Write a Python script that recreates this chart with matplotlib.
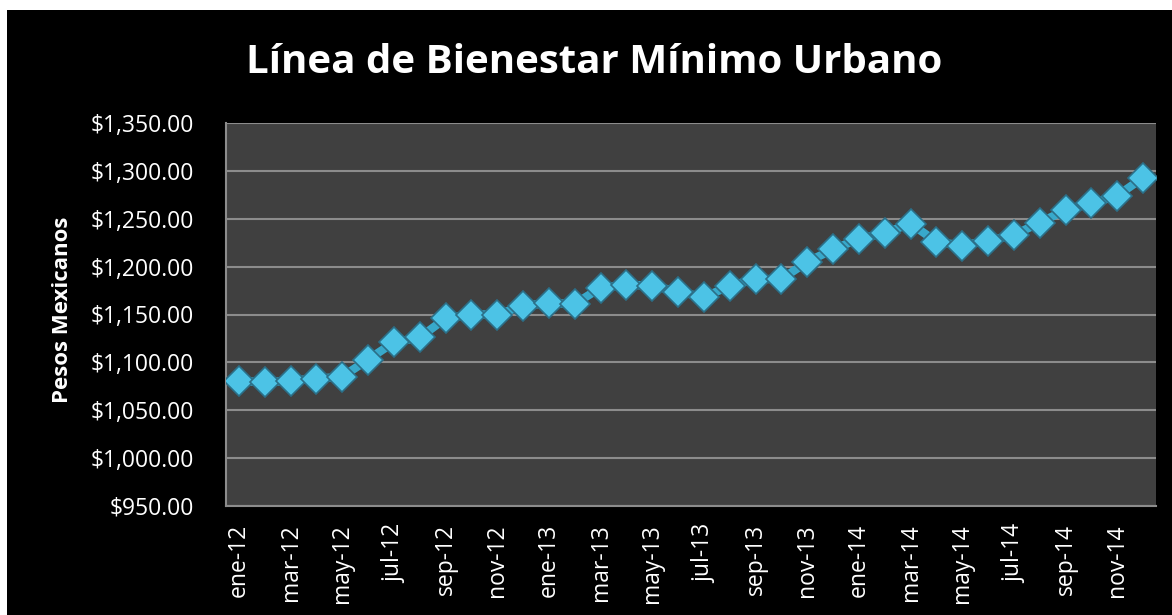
import matplotlib.pyplot as plt
from matplotlib.patches import Rectangle
from matplotlib.ticker import FuncFormatter

# Linea de bienestar minimo urbano, ene-12 .. dic-14
meses = ['ene', 'feb', 'mar', 'abr', 'may', 'jun', 'jul', 'ago', 'sep', 'oct', 'nov', 'dic']
anios = ['12', '13', '14']
etiquetas = [m + '-' + a for a in anios for m in meses]
valores = [1081, 1079, 1081, 1083, 1085, 1103, 1121, 1126, 1146, 1150, 1150, 1159,
           1162, 1161, 1178, 1181, 1180, 1174, 1168, 1180, 1187, 1187, 1205, 1218,
           1229, 1235, 1245, 1226, 1222, 1227, 1233, 1246, 1259, 1266, 1274, 1293]

plt.rcParams['font.family'] = ['Open Sans', 'DejaVu Sans']

fig = plt.figure(figsize=(11.72, 6.15), dpi=100)
fig.patch.set_facecolor('white')
fig.patches.append(Rectangle((7 / 1172, 0), 1, 1 - 10 / 615, transform=fig.transFigure,
                             facecolor='black', edgecolor='none', zorder=-10))

ax = fig.add_axes([226 / 1172, 1 - 506 / 615, 930 / 1172, 383 / 615])
ax.set_facecolor('#404040')

x = list(range(len(valores)))
ax.plot(x, valores, color='#38a9cb', linewidth=6, zorder=2)
ax.plot(x, valores, linestyle='none', marker='D', markersize=15,
        markerfacecolor='#4cc3e6', markeredgecolor='#2b6f88', markeredgewidth=1.2, zorder=3)

ax.set_xlim(-0.5, len(valores) - 0.5)
ax.set_ylim(950, 1350)
ax.set_yticks(range(950, 1351, 50))
ax.yaxis.set_major_formatter(FuncFormatter(lambda v, p: '${:,.2f}'.format(v)))
ax.grid(axis='y', color='#8c8c8c', linewidth=1.5)
ax.set_axisbelow(True)

ax.set_xticks(x[::2])
ax.set_xticklabels(etiquetas[::2], rotation=90)
ax.tick_params(axis='both', colors='white', labelsize=16.5, length=0)
ax.tick_params(axis='x', pad=13)
ax.tick_params(axis='y', pad=23)
for s in ['top', 'right']:
    ax.spines[s].set_visible(False)
for s in ['left', 'bottom']:
    ax.spines[s].set_color('#8c8c8c')
    ax.spines[s].set_linewidth(1.5)

fig.text(0.507, 0.899, 'Línea de Bienestar Mínimo Urbano', color='white',
         fontsize=29, fontweight='bold', ha='center', va='center')
fig.text(62 / 1172, 1 - 310 / 615, 'Pesos Mexicanos', color='white', fontsize=16,
         fontweight='bold', rotation=90, ha='center', va='center')

fig.savefig('out.png', dpi=100, facecolor=fig.get_facecolor())
